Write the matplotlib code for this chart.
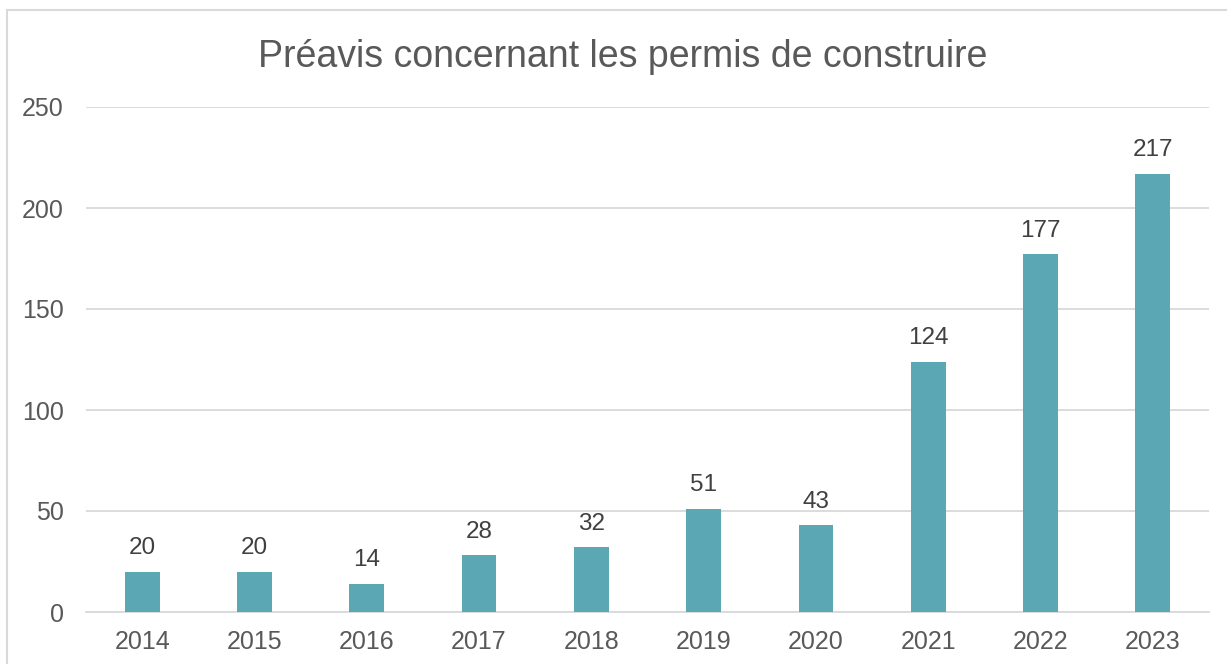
import matplotlib
matplotlib.use("Agg")
import matplotlib.pyplot as plt
from matplotlib.patches import Rectangle

plt.rcParams['font.family'] = ['Liberation Sans', 'DejaVu Sans']

years = ['2014', '2015', '2016', '2017', '2018', '2019', '2020', '2021', '2022', '2023']
values = [20, 20, 14, 28, 32, 51, 43, 124, 177, 217]
yticks = [0, 50, 100, 150, 200, 250]
title = "Préavis concernant les permis de construire"

bar_color = '#5BA7B4'
text_color = '#595959'
label_color = '#404040'
grid_color = '#D9D9D9'

fig = plt.figure(figsize=(12.27, 6.64), dpi=100)
fig.patches.append(Rectangle((7/1227, -0.1), 1.2, (654/664) + 0.1, transform=fig.transFigure,
                             fill=False, edgecolor='#D9D9D9', linewidth=1.5))
ax = fig.add_axes([86/1227, 52/664, (1209-86)/1227, (612-107)/664])

x = list(range(len(years)))
bars = ax.bar(x, values, width=0.31, color=bar_color, zorder=3)
for xi, v in zip(x, values):
    ax.annotate(str(v), (xi, v), xytext=(0, 9), textcoords='offset points',
                ha='center', va='bottom', fontsize=17.5, color=label_color)

ax.set_xlim(-0.5, len(years) - 0.5)
ax.set_ylim(0, 250)
ax.set_yticks(yticks)
ax.set_xticks(x)
ax.set_xticklabels(years)
ax.tick_params(axis='both', length=0, labelsize=18, colors=text_color)
ax.tick_params(axis='y', pad=16)
ax.tick_params(axis='x', pad=13)
ax.grid(axis='y', color=grid_color, linewidth=1.3, zorder=0)
for s in ['top', 'right', 'left']:
    ax.spines[s].set_visible(False)
ax.spines['bottom'].set_color(grid_color)
ax.spines['bottom'].set_linewidth(1.3)

fig.text(623/1227, 1 - 57/664, title, ha='center', va='center', fontsize=27, color=text_color)

fig.savefig('out.png', dpi=100)
